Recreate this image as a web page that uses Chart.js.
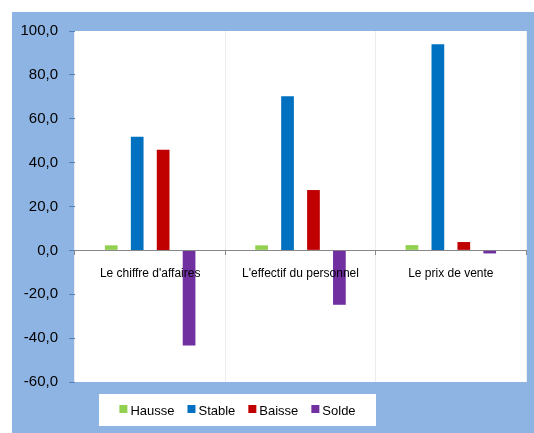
<!DOCTYPE html>
<html>
<head>
<meta charset="utf-8">
<script src="https://cdn.jsdelivr.net/npm/chart.js@4/dist/chart.umd.min.js"></script>
<style>
html,body{margin:0;padding:0;background:#ffffff;}
#wrap{width:534px;height:433px;position:relative;}
canvas{display:block;}
</style>
</head>
<body>
<div id="wrap"><canvas id="c" width="534" height="433"></canvas></div>
<script>
const categories = ["Le chiffre d'affaires", "L'effectif du personnel", "Le prix de vente"];
const hausse = [2.3, 2.3, 2.4];
const stable = [51.8, 70.3, 94.0];
const baisse = [45.9, 27.5, 3.8];
const solde = [-43.4, -24.8, -1.4];
const seriesNames = ["Hausse", "Stable", "Baisse", "Solde"];
const yTicks = [-60, -40, -20, 0, 20, 40, 60, 80, 100];

const FONT = "'Liberation Sans', Arial, sans-serif";

const bgPlugin = {
  id: 'bg',
  beforeDraw(chart) {
    const ctx = chart.ctx, a = chart.chartArea;
    ctx.save();
    ctx.fillStyle = '#8eb4e3';
    ctx.fillRect(12, 12, 522, 421);
    ctx.fillStyle = '#ffffff';
    ctx.fillRect(a.left, a.top, a.right - a.left, a.bottom - a.top);
    ctx.restore();
  }
};

const legendPlugin = {
  id: 'boxLegend',
  afterDraw(chart) {
    const ctx = chart.ctx;
    ctx.save();
    ctx.fillStyle = '#ffffff';
    ctx.fillRect(99, 394, 277, 32);
    ctx.font = "13px " + FONT;
    ctx.textBaseline = 'middle';
    const sq = 8, gapT = 3, gapI = 13;
    const items = chart.data.datasets.map(d => ({label: d.label, color: d.backgroundColor, w: ctx.measureText(d.label).width}));
    let total = 0;
    items.forEach((it, i) => { total += sq + gapT + it.w + (i < items.length - 1 ? gapI : 0); });
    let x = 99 + (277 - total) / 2;
    const cy = 411;
    items.forEach(it => {
      ctx.fillStyle = it.color;
      ctx.fillRect(x, 405, sq, sq);
      x += sq + gapT;
      ctx.fillStyle = '#000000';
      ctx.fillText(it.label, x, cy);
      x += it.w + gapI;
    });
    ctx.restore();
  }
};

const colors = ['#92d050', '#0070c0', '#c00000', '#7030a0'];
const values = [hausse, stable, baisse, solde];

new Chart(document.getElementById('c'), {
  type: 'bar',
  data: {
    labels: categories,
    datasets: seriesNames.map((n, i) => ({
      label: n,
      data: values[i],
      backgroundColor: colors[i],
      borderWidth: 0,
      categoryPercentage: 0.69,
      barPercentage: 0.49
    }))
  },
  options: {
    responsive: false,
    devicePixelRatio: 1,
    animation: false,
    layout: { padding: { left: 12, top: 31, right: 8, bottom: 51 } },
    plugins: { legend: { display: false }, tooltip: { enabled: false } },
    scales: {
      x: {
        position: { y: 0 },
        grid: { display: true, offset: true, color: '#ececec', tickColor: '#888888', tickLength: 4, lineWidth: 1 },
        border: { display: true, color: '#888888', width: 1 },
        ticks: { z: 1, color: '#000000', font: { family: FONT, size: 12 }, padding: 12, maxRotation: 0 }
      },
      y: {
        min: -60, max: 100,
        afterBuildTicks(scale) { scale.ticks = yTicks.map(v => ({ value: v })); },
        afterFit(scale) { scale.width = 63; },
        grid: { drawOnChartArea: false, tickColor: '#4f81bd', tickLength: 6 },
        border: { display: false },
        ticks: {
          color: '#000000', font: { family: FONT, size: 15 }, padding: 11,
          callback: (v) => v.toFixed(1).replace('.', ',')
        }
      }
    }
  },
  plugins: [bgPlugin, legendPlugin]
});
</script>
</body>
</html>
